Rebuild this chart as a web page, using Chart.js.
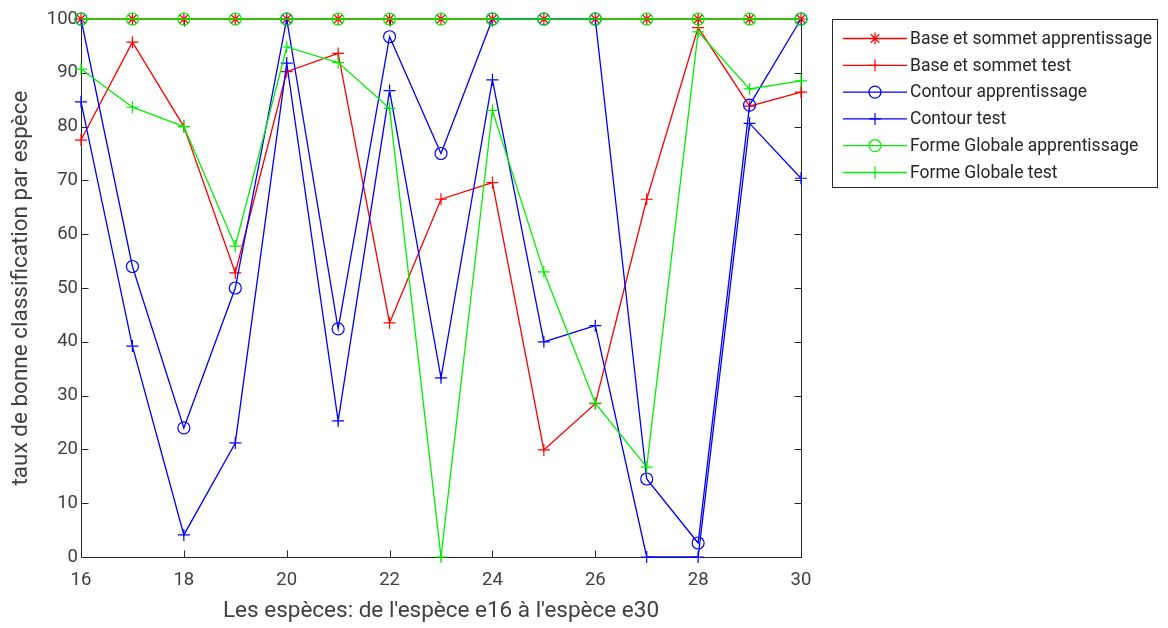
<!DOCTYPE html>
<html><head><meta charset="utf-8">
<script src="https://cdn.jsdelivr.net/npm/chart.js@4"></script>
<style>html,body{margin:0;padding:0;background:#fff}canvas{display:block}</style>
</head><body>
<canvas id="c" width="1168" height="628"></canvas>
<script>
const especes = [16,17,18,19,20,21,22,23,24,25,26,27,28,29,30];
const baseApprentissage = [100,100,100,100,100,100,100,100,100,100,100,100,100,100,100];
const baseTest = [77.5,95.7,80,52.8,90.2,93.6,43.5,66.5,69.6,19.9,28.5,66.5,98.4,83.8,86.4];
const contourApprentissage = [100,54,24,50,100,42.4,96.7,75,100,100,100,14.5,2.6,84,100];
const contourTest = [84.6,39.2,4.1,21.2,91.8,25.3,86.7,33.3,88.7,40,43,0,0,80.6,70.4];
const formeApprentissage = [100,100,100,100,100,100,100,100,100,100,100,100,100,100,100];
const formeTest = [90.7,83.6,80,57.8,94.8,91.9,83.4,0,83,53,28.6,16.7,97.6,87,88.5];
const seriesNames = ["Base et sommet apprentissage","Base et sommet test","Contour apprentissage","Contour test","Forme Globale apprentissage","Forme Globale test"];
const xTickValues = [16,18,20,22,24,26,28,30];
const yTickValues = [0,10,20,30,40,50,60,70,80,90,100];

const RED = '#ff0000', BLUE = '#0000ff', GREEN = '#00f000';
const seriesValues = [baseApprentissage, baseTest, contourApprentissage, contourTest, formeApprentissage, formeTest];
const seriesColors = [RED, RED, BLUE, BLUE, GREEN, GREEN];
const seriesMarkers = ['star','cross','circle','cross','circle','cross'];

const datasets = seriesValues.map((vals, i) => ({
  label: seriesNames[i],
  data: especes.map((x, k) => ({x: x, y: vals[k]})),
  showLine: true,
  borderColor: seriesColors[i],
  backgroundColor: 'rgba(0,0,0,0)',
  pointBorderColor: seriesColors[i],
  pointBackgroundColor: 'rgba(0,0,0,0)',
  borderWidth: 1.3,
  pointBorderWidth: 1.2,
  pointStyle: seriesMarkers[i],
  pointRadius: 6,
  pointHoverRadius: 6,
  tension: 0,
  clip: false,
  order: 6 - i
}));

const AXIS = '#262626';
const boxPlugin = {
  id: 'box',
  beforeDatasetsDraw(chart) {
    const {ctx, chartArea: a, scales: {x, y}} = chart;
    const L = Math.round(a.left) + 0.5, R = Math.round(a.right) + 0.5, T = Math.round(a.top) + 0.5, B = Math.round(a.bottom) + 0.5;
    ctx.save();
    ctx.strokeStyle = AXIS; ctx.lineWidth = 1;
    ctx.strokeRect(L, T, R - L, B - T);
    ctx.beginPath();
    yTickValues.forEach(v => {
      const p = Math.round(y.getPixelForValue(v)) + 0.5;
      ctx.moveTo(L, p); ctx.lineTo(L + 7, p);
      ctx.moveTo(R, p); ctx.lineTo(R - 7, p);
    });
    xTickValues.forEach(v => {
      const p = Math.round(x.getPixelForValue(v)) + 0.5;
      ctx.moveTo(p, B); ctx.lineTo(p, B - 7);
      ctx.moveTo(p, T); ctx.lineTo(p, T + 7);
    });
    ctx.stroke();
    ctx.restore();
  }
};

function drawMarker(ctx, style, cx, cy, r) {
  ctx.beginPath();
  if (style === 'circle') {
    ctx.arc(cx, cy, r, 0, Math.PI * 2);
  } else {
    ctx.moveTo(cx - r, cy); ctx.lineTo(cx + r, cy);
    ctx.moveTo(cx, cy - r); ctx.lineTo(cx, cy + r);
    if (style === 'star') {
      const d = r * Math.SQRT1_2;
      ctx.moveTo(cx - d, cy - d); ctx.lineTo(cx + d, cy + d);
      ctx.moveTo(cx - d, cy + d); ctx.lineTo(cx + d, cy - d);
    }
  }
  ctx.stroke();
}

const legendPlugin = {
  id: 'customLegend',
  afterDraw(chart) {
    const ctx = chart.ctx;
    const bx = 832.5, by = 19.5, bw = 325, bh = 168;
    ctx.save();
    ctx.fillStyle = '#fff';
    ctx.fillRect(bx, by, bw, bh);
    ctx.strokeStyle = AXIS; ctx.lineWidth = 1;
    ctx.strokeRect(bx, by, bw, bh);
    ctx.font = '17.5px Roboto';
    ctx.textBaseline = 'middle';
    ctx.textAlign = 'left';
    seriesNames.forEach((name, i) => {
      const yy = 38.5 + i * 26.8;
      ctx.strokeStyle = seriesColors[i];
      ctx.lineWidth = 1.3;
      ctx.beginPath(); ctx.moveTo(843, yy); ctx.lineTo(907, yy); ctx.stroke();
      ctx.lineWidth = 1.2;
      drawMarker(ctx, seriesMarkers[i], 875, yy, 6);
      ctx.fillStyle = '#262626';
      ctx.fillText(name, 910, yy + 1);
    });
    ctx.restore();
  }
};

new Chart(document.getElementById('c'), {
  type: 'scatter',
  data: { datasets },
  plugins: [boxPlugin, legendPlugin],
  options: {
    responsive: false,
    animation: false,
    events: [],
    layout: { padding: { left: 0, top: 19, right: 367, bottom: 0 } },
    plugins: { legend: { display: false }, tooltip: { enabled: false } },
    scales: {
      x: {
        type: 'linear', min: 16, max: 30,
        afterBuildTicks: s => { s.ticks = xTickValues.map(v => ({value: v})); },
        afterFit: s => { s.height = 628 - 557; },
        grid: { display: false, drawTicks: false },
        border: { display: false },
        ticks: { color: '#404040', font: { family: 'Roboto', size: 18.5 }, padding: 12, maxRotation: 0, autoSkip: false },
        title: { display: true, text: "Les espèces: de l'espèce e16 à l'espèce e30", color: '#404040', font: { family: 'Roboto', size: 22.5 }, padding: { top: 4, bottom: 3 } }
      },
      y: {
        type: 'linear', min: 0, max: 100,
        afterBuildTicks: s => { s.ticks = yTickValues.map(v => ({value: v})); },
        afterFit: s => { s.width = 81; },
        grid: { display: false, drawTicks: false },
        border: { display: false },
        ticks: { color: '#404040', font: { family: 'Roboto', size: 18.5 }, padding: 3, autoSkip: false },
        title: { display: true, text: 'taux de bonne classification par espèce', color: '#404040', font: { family: 'Roboto', size: 22.5 }, padding: { top: 8, bottom: 4 } }
      }
    }
  }
});
</script>
</body></html>
